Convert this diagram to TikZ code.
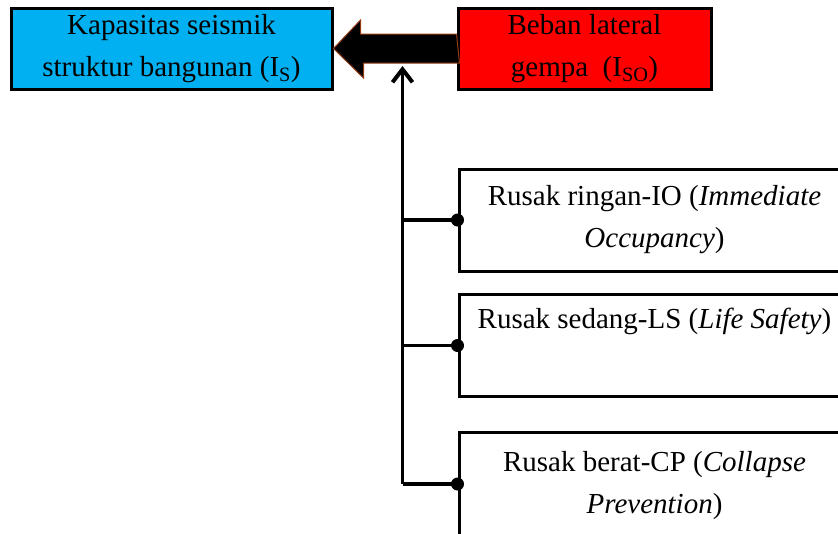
\documentclass[tikz,border=0pt]{standalone}
\usepackage{fontspec}
\setmainfont{Liberation Serif}
\usetikzlibrary{arrows.meta}
\definecolor{kapasitas}{RGB}{0,176,240}
\definecolor{beban}{RGB}{255,0,0}
\definecolor{panah}{RGB}{150,60,20}

\begin{document}
\begin{tikzpicture}[x=1pt,y=-1pt,
    kotak/.style={draw=black,line width=3pt,align=center,inner sep=0pt,
      font=\fontsize{29}{42}\selectfont},
    level/.style={kotak,minimum width=391pt,minimum height=102pt},
    cabang/.style={line width=3.5pt},
    titik/.style={fill=black}]
    \useasboundingbox (0,0) rectangle (838,533);
    \clip (0,0) rectangle (838,533);

    \node[kotak,fill=kapasitas,minimum width=321pt,minimum height=81pt] (Is) at (171.5,48.5)
      {Kapasitas seismik\\ struktur bangunan (I\textsubscript{S})};
    \node[kotak,fill=beban,minimum width=253pt,minimum height=81pt] (Iso) at (584.5,48.5)
      {Beban lateral\\ gempa~ (I\textsubscript{SO})};

    \node[level] (IO) at (654.5,220) {Rusak ringan-IO (\textit{Immediate}\\ \textit{Occupancy})};
    \node[level] (LS) at (654.5,345.5) {Rusak sedang-LS (\textit{Life Safety})\\ \strut};
    \node[level,minimum height=156pt] (CP) at (654.5,510)
      {Rusak berat-CP (\textit{Collapse}\\ \textit{Prevention})\\ \strut};

    \filldraw[fill=black,draw=panah,line width=1pt]
      ([yshift=14.5pt]Iso.west) -- ++(-96,0) -- ++(0,-14) -- (Is.east)
      -- ++(30,29.5) -- ++(0,-15) -- ++(96,0) -- cycle;

    \coordinate (puncak) at (402.5,66);
    \coordinate (dasar) at (402.5,484);
    \draw[cabang,-{Straight Barb[length=13pt,width=20pt,line width=4pt]}] (dasar) -- (puncak);
    \foreach \n in {IO,LS}{
      \draw[cabang] (\n.west -| puncak) -- (\n.west);
      \fill[titik] (\n.west) circle (6.5);
    }
    \draw[cabang] (dasar) -- (dasar -| CP.west);
    \fill[titik] (dasar -| CP.west) circle (6.5);
  \end{tikzpicture}
\end{document}
